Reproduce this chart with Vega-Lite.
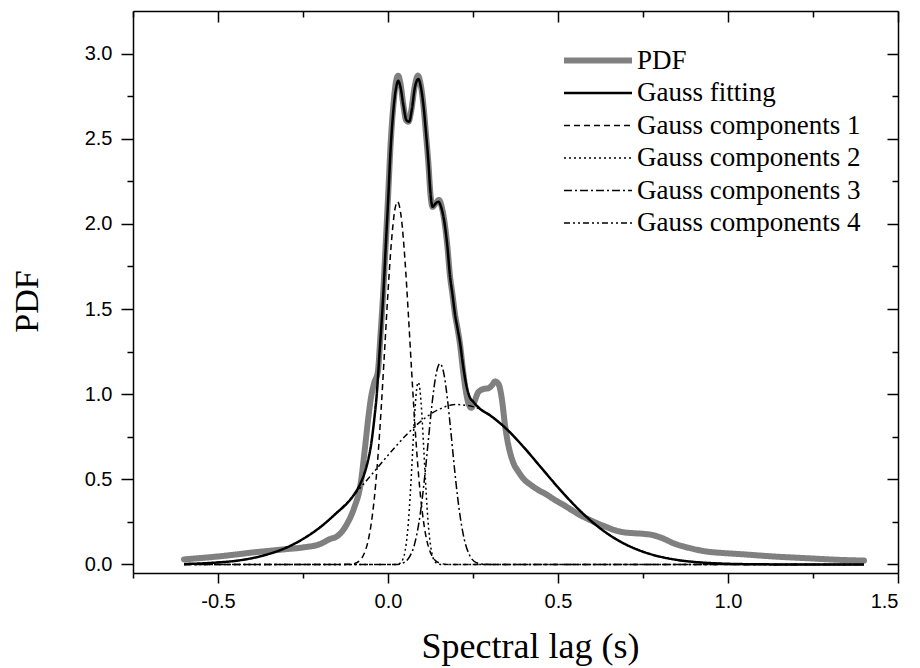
{
"$schema":"https://vega.github.io/schema/vega-lite/v6.json",
"width":765,"height":562,
"autosize":{"type":"none"},
"padding":{"left":133,"top":11,"right":22,"bottom":95},
"background":"white",
"config":{"view":{"stroke":null},"axis":{"grid":false,"domainColor":"black","tickColor":"black","labelColor":"black","titleColor":"black","domainWidth":1.5,"tickWidth":1.5,"labelFont":"Liberation Sans","labelFontSize":20,"titleFont":"Liberation Serif","titleFontSize":34,"titleFontWeight":"normal"}},
"data":{"values":[]},
"encoding":{
"color":{"field":"series","type":"nominal","scale":{"domain":["PDF","Gauss fitting","Gauss components 1","Gauss components 2","Gauss components 3","Gauss components 4"],"range":["#808080","black","black","black","black","black"]},"legend":{"title":null,"orient":"none","legendX":426,"legendY":36,"padding":0,"symbolType":"M-1,0H7","symbolSize":289,"labelFont":"Liberation Serif","labelFontSize":27,"labelColor":"black","labelLimit":400,"labelOffset":51,"rowPadding":4.5}},
"strokeDash":{"field":"series","type":"nominal","scale":{"domain":["PDF","Gauss fitting","Gauss components 1","Gauss components 2","Gauss components 3","Gauss components 4"],"range":[[1,0],[1,0],[6,4],[2,3],[8,3,2,3],[6,3,2,3,2,3]]},"legend":{"title":null,"orient":"none","legendX":426,"legendY":36,"padding":0,"symbolType":"M-1,0H7","symbolSize":289,"labelFont":"Liberation Serif","labelFontSize":27,"labelColor":"black","labelLimit":400,"labelOffset":51,"rowPadding":4.5}},
"strokeWidth":{"field":"series","type":"nominal","scale":{"type":"ordinal","domain":["PDF","Gauss fitting","Gauss components 1","Gauss components 2","Gauss components 3","Gauss components 4"],"range":[6,2.5,1.5,1.5,1.5,1.5]},"legend":{"title":null,"orient":"none","legendX":426,"legendY":36,"padding":0,"symbolType":"M-1,0H7","symbolSize":289,"labelFont":"Liberation Serif","labelFontSize":27,"labelColor":"black","labelLimit":400,"labelOffset":51,"rowPadding":4.5}}
},
"resolve":{"axis":{"x":"independent","y":"independent"}},
"layer":[
{"data":{"values":[
{"series":"PDF","x":-0.6,"y":0.03},{"series":"PDF","x":-0.55,"y":0.038},{"series":"PDF","x":-0.5,"y":0.047},{"series":"PDF","x":-0.45,"y":0.058},{"series":"PDF","x":-0.4,"y":0.07},{"series":"PDF","x":-0.35,"y":0.08},{"series":"PDF","x":-0.3,"y":0.09},{"series":"PDF","x":-0.25,"y":0.1},{"series":"PDF","x":-0.2,"y":0.12},{"series":"PDF","x":-0.17,"y":0.15},{"series":"PDF","x":-0.15,"y":0.165},{"series":"PDF","x":-0.12,"y":0.24},{"series":"PDF","x":-0.1,"y":0.33},{"series":"PDF","x":-0.08,"y":0.48},{"series":"PDF","x":-0.068,"y":0.68},{"series":"PDF","x":-0.058,"y":0.86},{"series":"PDF","x":-0.05,"y":0.98},{"series":"PDF","x":-0.04,"y":1.07},{"series":"PDF","x":-0.03,"y":1.13},{"series":"PDF","x":-0.022,"y":1.35},{"series":"PDF","x":-0.014,"y":1.6},{"series":"PDF","x":-0.005,"y":1.95},{"series":"PDF","x":0,"y":2.15},{"series":"PDF","x":0.008,"y":2.48},{"series":"PDF","x":0.016,"y":2.7},{"series":"PDF","x":0.024,"y":2.84},{"series":"PDF","x":0.03,"y":2.87},{"series":"PDF","x":0.037,"y":2.82},{"series":"PDF","x":0.045,"y":2.7},{"series":"PDF","x":0.053,"y":2.61},{"series":"PDF","x":0.06,"y":2.6},{"series":"PDF","x":0.068,"y":2.66},{"series":"PDF","x":0.078,"y":2.8},{"series":"PDF","x":0.088,"y":2.87},{"series":"PDF","x":0.096,"y":2.82},{"series":"PDF","x":0.104,"y":2.7},{"series":"PDF","x":0.112,"y":2.52},{"series":"PDF","x":0.119,"y":2.35},{"series":"PDF","x":0.125,"y":2.17},{"series":"PDF","x":0.131,"y":2.1},{"series":"PDF","x":0.14,"y":2.12},{"series":"PDF","x":0.15,"y":2.14},{"series":"PDF","x":0.158,"y":2.1},{"series":"PDF","x":0.167,"y":2.0},{"series":"PDF","x":0.175,"y":1.86},{"series":"PDF","x":0.182,"y":1.7},{"series":"PDF","x":0.19,"y":1.58},{"series":"PDF","x":0.197,"y":1.47},{"series":"PDF","x":0.205,"y":1.38},{"series":"PDF","x":0.212,"y":1.29},{"series":"PDF","x":0.22,"y":1.15},{"series":"PDF","x":0.228,"y":1.03},{"series":"PDF","x":0.236,"y":0.95},{"series":"PDF","x":0.245,"y":0.92},{"series":"PDF","x":0.255,"y":0.96},{"series":"PDF","x":0.265,"y":1.01},{"series":"PDF","x":0.28,"y":1.03},{"series":"PDF","x":0.295,"y":1.035},{"series":"PDF","x":0.305,"y":1.05},{"series":"PDF","x":0.315,"y":1.075},{"series":"PDF","x":0.325,"y":1.06},{"series":"PDF","x":0.335,"y":0.97},{"series":"PDF","x":0.344,"y":0.82},{"series":"PDF","x":0.352,"y":0.72},{"series":"PDF","x":0.36,"y":0.65},{"series":"PDF","x":0.37,"y":0.59},{"series":"PDF","x":0.383,"y":0.546},{"series":"PDF","x":0.4,"y":0.5},{"series":"PDF","x":0.418,"y":0.47},{"series":"PDF","x":0.44,"y":0.44},{"series":"PDF","x":0.467,"y":0.41},{"series":"PDF","x":0.49,"y":0.38},{"series":"PDF","x":0.516,"y":0.35},{"series":"PDF","x":0.54,"y":0.32},{"series":"PDF","x":0.565,"y":0.29},{"series":"PDF","x":0.59,"y":0.265},{"series":"PDF","x":0.614,"y":0.243},{"series":"PDF","x":0.64,"y":0.222},{"series":"PDF","x":0.663,"y":0.204},{"series":"PDF","x":0.69,"y":0.19},{"series":"PDF","x":0.72,"y":0.184},{"series":"PDF","x":0.75,"y":0.18},{"series":"PDF","x":0.78,"y":0.172},{"series":"PDF","x":0.81,"y":0.152},{"series":"PDF","x":0.839,"y":0.125},{"series":"PDF","x":0.865,"y":0.108},{"series":"PDF","x":0.888,"y":0.096},{"series":"PDF","x":0.937,"y":0.076},{"series":"PDF","x":0.98,"y":0.068},{"series":"PDF","x":1.035,"y":0.061},{"series":"PDF","x":1.133,"y":0.047},{"series":"PDF","x":1.231,"y":0.037},{"series":"PDF","x":1.329,"y":0.027},{"series":"PDF","x":1.4,"y":0.023}]},
"mark":{"type":"line","interpolate":"monotone","strokeCap":"round","strokeJoin":"round"},
"encoding":{
"x":{"field":"x","type":"quantitative","scale":{"domain":[-0.75,1.5],"nice":false,"zero":false},"axis":{"orient":"bottom","values":[-0.5,0,0.5,1,1.5],"labelExpr":"datum.value < 0 ? '-' + format(-datum.value, '.1f') : format(datum.value, '.1f')","tickSize":10,"labelPadding":8,"title":"Spectral lag (s)","titleFontSize":36,"titleX":397,"titleY":84,"titleBaseline":"alphabetic","titleAlign":"center","titleAnchor":null}},
"y":{"field":"y","type":"quantitative","scale":{"domain":[-0.05,3.25],"nice":false,"zero":false},"axis":{"orient":"left","values":[0,0.5,1,1.5,2,2.5,3],"format":".1f","tickSize":12,"labelPadding":9,"title":"PDF","titleX":-96,"titleY":290,"titleAngle":-90,"titleBaseline":"alphabetic","titleAlign":"center","titleAnchor":null}}
}},
{"data":{"values":[
{"series":"Gauss components 1","x":-0.6,"y":0},{"series":"Gauss components 1","x":-0.14,"y":0},{"series":"Gauss components 1","x":-0.12,"y":0.001},{"series":"Gauss components 1","x":-0.1,"y":0.005},{"series":"Gauss components 1","x":-0.08,"y":0.03},{"series":"Gauss components 1","x":-0.07,"y":0.064},{"series":"Gauss components 1","x":-0.06,"y":0.126},{"series":"Gauss components 1","x":-0.05,"y":0.231},{"series":"Gauss components 1","x":-0.04,"y":0.393},{"series":"Gauss components 1","x":-0.03,"y":0.623},{"series":"Gauss components 1","x":-0.02,"y":0.918},{"series":"Gauss components 1","x":-0.01,"y":1.257},{"series":"Gauss components 1","x":0,"y":1.6},{"series":"Gauss components 1","x":0.01,"y":1.892},{"series":"Gauss components 1","x":0.02,"y":2.081},{"series":"Gauss components 1","x":0.028,"y":2.13},{"series":"Gauss components 1","x":0.04,"y":2.021},{"series":"Gauss components 1","x":0.05,"y":1.785},{"series":"Gauss components 1","x":0.06,"y":1.465},{"series":"Gauss components 1","x":0.07,"y":1.118},{"series":"Gauss components 1","x":0.08,"y":0.793},{"series":"Gauss components 1","x":0.09,"y":0.523},{"series":"Gauss components 1","x":0.1,"y":0.321},{"series":"Gauss components 1","x":0.11,"y":0.183},{"series":"Gauss components 1","x":0.12,"y":0.097},{"series":"Gauss components 1","x":0.13,"y":0.048},{"series":"Gauss components 1","x":0.14,"y":0.022},{"series":"Gauss components 1","x":0.16,"y":0.004},{"series":"Gauss components 1","x":0.18,"y":0},{"series":"Gauss components 1","x":1.4,"y":0}]},
"mark":{"type":"line","interpolate":"monotone"},
"encoding":{
"x":{"field":"x","type":"quantitative","scale":{"domain":[-0.75,1.5],"nice":false,"zero":false},"axis":{"orient":"bottom","values":[-0.75,-0.25,0.25,0.75,1.25],"labels":false,"domain":false,"tickSize":5,"title":null}},
"y":{"field":"y","type":"quantitative","scale":{"domain":[-0.05,3.25],"nice":false,"zero":false},"axis":{"orient":"left","values":[0.25,0.75,1.25,1.75,2.25,2.75],"labels":false,"domain":false,"tickSize":6,"title":null}}
}},
{"data":{"values":[
{"series":"Gauss components 2","x":-0.6,"y":0},{"series":"Gauss components 2","x":0.02,"y":0},{"series":"Gauss components 2","x":0.03,"y":0.003},{"series":"Gauss components 2","x":0.04,"y":0.017},{"series":"Gauss components 2","x":0.05,"y":0.077},{"series":"Gauss components 2","x":0.055,"y":0.145},{"series":"Gauss components 2","x":0.06,"y":0.25},{"series":"Gauss components 2","x":0.065,"y":0.395},{"series":"Gauss components 2","x":0.07,"y":0.573},{"series":"Gauss components 2","x":0.075,"y":0.762},{"series":"Gauss components 2","x":0.08,"y":0.93},{"series":"Gauss components 2","x":0.084,"y":1.025},{"series":"Gauss components 2","x":0.089,"y":1.07},{"series":"Gauss components 2","x":0.094,"y":1.025},{"series":"Gauss components 2","x":0.1,"y":0.868},{"series":"Gauss components 2","x":0.105,"y":0.687},{"series":"Gauss components 2","x":0.11,"y":0.499},{"series":"Gauss components 2","x":0.115,"y":0.332},{"series":"Gauss components 2","x":0.12,"y":0.203},{"series":"Gauss components 2","x":0.125,"y":0.114},{"series":"Gauss components 2","x":0.13,"y":0.058},{"series":"Gauss components 2","x":0.14,"y":0.012},{"series":"Gauss components 2","x":0.15,"y":0.002},{"series":"Gauss components 2","x":0.16,"y":0},{"series":"Gauss components 2","x":1.4,"y":0}]},
"mark":{"type":"line","interpolate":"monotone"},
"encoding":{
"x":{"field":"x","type":"quantitative","scale":{"domain":[-0.75,1.5],"nice":false,"zero":false},"axis":{"orient":"top","values":[-0.5,0,0.5,1,1.5],"labels":false,"tickSize":-11,"title":null}},
"y":{"field":"y","type":"quantitative","scale":{"domain":[-0.05,3.25],"nice":false,"zero":false},"axis":{"orient":"right","values":[0,0.5,1,1.5,2,2.5,3],"labels":false,"tickSize":-11,"title":null}}
}},
{"data":{"values":[
{"series":"Gauss components 3","x":-0.6,"y":0},{"series":"Gauss components 3","x":0.02,"y":0},{"series":"Gauss components 3","x":0.04,"y":0.006},{"series":"Gauss components 3","x":0.06,"y":0.035},{"series":"Gauss components 3","x":0.08,"y":0.134},{"series":"Gauss components 3","x":0.09,"y":0.234},{"series":"Gauss components 3","x":0.1,"y":0.375},{"series":"Gauss components 3","x":0.11,"y":0.555},{"series":"Gauss components 3","x":0.12,"y":0.757},{"series":"Gauss components 3","x":0.13,"y":0.951},{"series":"Gauss components 3","x":0.14,"y":1.101},{"series":"Gauss components 3","x":0.153,"y":1.18},{"series":"Gauss components 3","x":0.165,"y":1.113},{"series":"Gauss components 3","x":0.175,"y":0.968},{"series":"Gauss components 3","x":0.185,"y":0.777},{"series":"Gauss components 3","x":0.195,"y":0.574},{"series":"Gauss components 3","x":0.205,"y":0.391},{"series":"Gauss components 3","x":0.215,"y":0.246},{"series":"Gauss components 3","x":0.225,"y":0.142},{"series":"Gauss components 3","x":0.24,"y":0.054},{"series":"Gauss components 3","x":0.26,"y":0.011},{"series":"Gauss components 3","x":0.28,"y":0.002},{"series":"Gauss components 3","x":0.3,"y":0},{"series":"Gauss components 3","x":1.4,"y":0}]},
"mark":{"type":"line","interpolate":"monotone"},
"encoding":{
"x":{"field":"x","type":"quantitative","scale":{"domain":[-0.75,1.5],"nice":false,"zero":false},"axis":{"orient":"top","values":[-0.75,-0.25,0.25,0.75,1.25],"labels":false,"domain":false,"tickSize":-6,"title":null}},
"y":{"field":"y","type":"quantitative","scale":{"domain":[-0.05,3.25],"nice":false,"zero":false},"axis":{"orient":"right","values":[0.25,0.75,1.25,1.75,2.25,2.75],"labels":false,"domain":false,"tickSize":-6,"title":null}}
}},
{"data":{"values":[
{"series":"Gauss components 4","x":-0.6,"y":0.003},{"series":"Gauss components 4","x":-0.55,"y":0.006},{"series":"Gauss components 4","x":-0.5,"y":0.012},{"series":"Gauss components 4","x":-0.45,"y":0.021},{"series":"Gauss components 4","x":-0.4,"y":0.037},{"series":"Gauss components 4","x":-0.35,"y":0.062},{"series":"Gauss components 4","x":-0.3,"y":0.098},{"series":"Gauss components 4","x":-0.25,"y":0.15},{"series":"Gauss components 4","x":-0.2,"y":0.218},{"series":"Gauss components 4","x":-0.15,"y":0.305},{"series":"Gauss components 4","x":-0.1,"y":0.408},{"series":"Gauss components 4","x":-0.05,"y":0.523},{"series":"Gauss components 4","x":0,"y":0.641},{"series":"Gauss components 4","x":0.05,"y":0.753},{"series":"Gauss components 4","x":0.1,"y":0.846},{"series":"Gauss components 4","x":0.15,"y":0.911},{"series":"Gauss components 4","x":0.2,"y":0.939},{"series":"Gauss components 4","x":0.25,"y":0.927},{"series":"Gauss components 4","x":0.3,"y":0.876},{"series":"Gauss components 4","x":0.35,"y":0.793},{"series":"Gauss components 4","x":0.4,"y":0.687},{"series":"Gauss components 4","x":0.45,"y":0.57},{"series":"Gauss components 4","x":0.5,"y":0.453},{"series":"Gauss components 4","x":0.55,"y":0.345},{"series":"Gauss components 4","x":0.6,"y":0.251},{"series":"Gauss components 4","x":0.65,"y":0.175},{"series":"Gauss components 4","x":0.7,"y":0.117},{"series":"Gauss components 4","x":0.75,"y":0.075},{"series":"Gauss components 4","x":0.8,"y":0.046},{"series":"Gauss components 4","x":0.85,"y":0.027},{"series":"Gauss components 4","x":0.9,"y":0.015},{"series":"Gauss components 4","x":0.95,"y":0.008},{"series":"Gauss components 4","x":1.0,"y":0.004},{"series":"Gauss components 4","x":1.1,"y":0.001},{"series":"Gauss components 4","x":1.2,"y":0},{"series":"Gauss components 4","x":1.4,"y":0}]},
"mark":{"type":"line","interpolate":"monotone"},
"encoding":{
"x":{"field":"x","type":"quantitative","scale":{"domain":[-0.75,1.5],"nice":false,"zero":false},"axis":null},
"y":{"field":"y","type":"quantitative","scale":{"domain":[-0.05,3.25],"nice":false,"zero":false},"axis":null}
}},
{"data":{"values":[
{"series":"Gauss fitting","x":-0.6,"y":0.003},{"series":"Gauss fitting","x":-0.55,"y":0.006},{"series":"Gauss fitting","x":-0.5,"y":0.012},{"series":"Gauss fitting","x":-0.45,"y":0.021},{"series":"Gauss fitting","x":-0.4,"y":0.037},{"series":"Gauss fitting","x":-0.35,"y":0.062},{"series":"Gauss fitting","x":-0.3,"y":0.098},{"series":"Gauss fitting","x":-0.25,"y":0.15},{"series":"Gauss fitting","x":-0.2,"y":0.218},{"series":"Gauss fitting","x":-0.15,"y":0.305},{"series":"Gauss fitting","x":-0.12,"y":0.36},{"series":"Gauss fitting","x":-0.1,"y":0.41},{"series":"Gauss fitting","x":-0.08,"y":0.48},{"series":"Gauss fitting","x":-0.07,"y":0.53},{"series":"Gauss fitting","x":-0.06,"y":0.6},{"series":"Gauss fitting","x":-0.05,"y":0.7},{"series":"Gauss fitting","x":-0.04,"y":0.86},{"series":"Gauss fitting","x":-0.033,"y":1.0},{"series":"Gauss fitting","x":-0.025,"y":1.24},{"series":"Gauss fitting","x":-0.014,"y":1.58},{"series":"Gauss fitting","x":-0.005,"y":1.93},{"series":"Gauss fitting","x":0,"y":2.12},{"series":"Gauss fitting","x":0.008,"y":2.45},{"series":"Gauss fitting","x":0.016,"y":2.67},{"series":"Gauss fitting","x":0.024,"y":2.8},{"series":"Gauss fitting","x":0.03,"y":2.84},{"series":"Gauss fitting","x":0.037,"y":2.8},{"series":"Gauss fitting","x":0.045,"y":2.7},{"series":"Gauss fitting","x":0.054,"y":2.61},{"series":"Gauss fitting","x":0.062,"y":2.6},{"series":"Gauss fitting","x":0.07,"y":2.67},{"series":"Gauss fitting","x":0.079,"y":2.8},{"series":"Gauss fitting","x":0.089,"y":2.85},{"series":"Gauss fitting","x":0.097,"y":2.8},{"series":"Gauss fitting","x":0.104,"y":2.7},{"series":"Gauss fitting","x":0.112,"y":2.53},{"series":"Gauss fitting","x":0.119,"y":2.36},{"series":"Gauss fitting","x":0.125,"y":2.18},{"series":"Gauss fitting","x":0.131,"y":2.1},{"series":"Gauss fitting","x":0.14,"y":2.12},{"series":"Gauss fitting","x":0.148,"y":2.13},{"series":"Gauss fitting","x":0.156,"y":2.1},{"series":"Gauss fitting","x":0.165,"y":2.02},{"series":"Gauss fitting","x":0.175,"y":1.86},{"series":"Gauss fitting","x":0.182,"y":1.7},{"series":"Gauss fitting","x":0.19,"y":1.58},{"series":"Gauss fitting","x":0.197,"y":1.47},{"series":"Gauss fitting","x":0.205,"y":1.38},{"series":"Gauss fitting","x":0.212,"y":1.3},{"series":"Gauss fitting","x":0.22,"y":1.18},{"series":"Gauss fitting","x":0.226,"y":1.1},{"series":"Gauss fitting","x":0.233,"y":1.03},{"series":"Gauss fitting","x":0.241,"y":0.98},{"series":"Gauss fitting","x":0.251,"y":0.955},{"series":"Gauss fitting","x":0.27,"y":0.915},{"series":"Gauss fitting","x":0.3,"y":0.876},{"series":"Gauss fitting","x":0.35,"y":0.793},{"series":"Gauss fitting","x":0.4,"y":0.687},{"series":"Gauss fitting","x":0.45,"y":0.57},{"series":"Gauss fitting","x":0.5,"y":0.453},{"series":"Gauss fitting","x":0.55,"y":0.345},{"series":"Gauss fitting","x":0.6,"y":0.251},{"series":"Gauss fitting","x":0.65,"y":0.175},{"series":"Gauss fitting","x":0.7,"y":0.117},{"series":"Gauss fitting","x":0.75,"y":0.075},{"series":"Gauss fitting","x":0.8,"y":0.046},{"series":"Gauss fitting","x":0.85,"y":0.027},{"series":"Gauss fitting","x":0.9,"y":0.015},{"series":"Gauss fitting","x":0.95,"y":0.008},{"series":"Gauss fitting","x":1.0,"y":0.004},{"series":"Gauss fitting","x":1.1,"y":0.001},{"series":"Gauss fitting","x":1.2,"y":0},{"series":"Gauss fitting","x":1.4,"y":0}]},
"mark":{"type":"line","interpolate":"monotone"},
"encoding":{
"x":{"field":"x","type":"quantitative","scale":{"domain":[-0.75,1.5],"nice":false,"zero":false},"axis":null},
"y":{"field":"y","type":"quantitative","scale":{"domain":[-0.05,3.25],"nice":false,"zero":false},"axis":null}
}}
]
}
